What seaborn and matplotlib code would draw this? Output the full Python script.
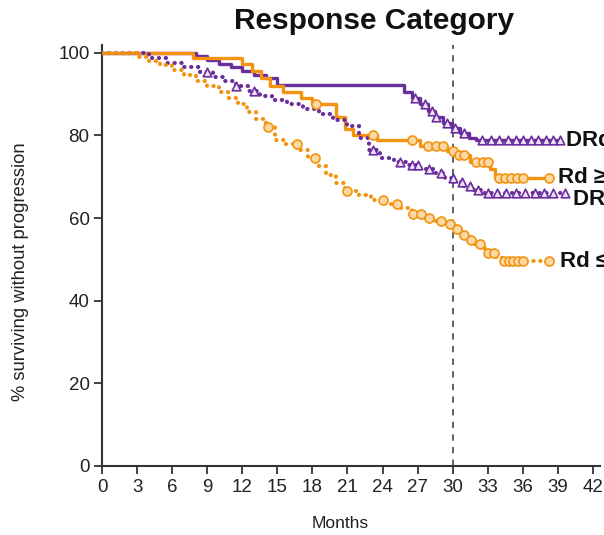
import numpy as np
import pandas as pd
import matplotlib
matplotlib.use("Agg")
import matplotlib.pyplot as plt
import seaborn as sns

sns.set_style("white")
plt.rcParams["font.family"] = ["Liberation Sans", "DejaVu Sans"]

PURPLE = "#6A2D9C"
ORANGE = "#F3930F"

# Kaplan-Meier step points (months, % progression-free) and censor times
drd_cr_t = [0, 8.0, 9.0, 10.0, 11.0, 12.0, 13.0, 14.0, 15.0, 25.8, 26.5, 27.2, 27.9,
            28.5, 29.2, 29.9, 30.6, 31.4, 32.0]
drd_cr_s = [100, 99.2, 98.3, 97.4, 96.5, 95.6, 94.7, 93.8, 92.3, 90.5, 89.0, 87.5, 86.0,
            84.5, 83.0, 81.8, 80.6, 79.5, 78.8]
drd_cr_end = 39.2
drd_cr_cens = [26.8, 27.6, 28.2, 28.6, 29.5, 30.2, 31.0, 32.5, 33.3, 34.0,
               34.7, 35.4, 36.0, 36.7, 37.3, 38.0, 38.6, 39.2]

rd_cr_t = [0, 7.8, 12.0, 12.8, 13.6, 14.4, 15.5, 17.0, 18.0, 20.0, 20.8, 21.5, 23.5,
           27.2, 29.5, 30.2, 31.5, 33.2, 33.6]
rd_cr_s = [100, 98.8, 97.3, 95.5, 93.8, 92.0, 90.5, 89.0, 87.5, 84.5, 81.5, 80.0, 79.0,
           77.5, 76.3, 75.3, 73.7, 71.8, 69.8]
rd_cr_end = 38.2
rd_cr_cens = [18.3, 23.2, 26.5, 27.9, 28.6, 29.2, 30.0, 30.5, 31.0, 32.0, 32.6, 33.0,
              34.0, 34.5, 35.0, 35.5, 36.0, 38.2]

drd_lt_t = [0, 4.0, 5.5, 7.0, 8.4, 9.5, 10.5, 11.5, 12.5, 13.5, 14.5, 15.8, 17.2, 18.6,
            19.8, 21.0, 22.0, 22.8, 23.8, 25.0, 26.2, 27.2, 28.3, 29.3, 30.2, 31.0,
            31.8, 32.6]
drd_lt_s = [100, 98.8, 97.6, 96.5, 95.3, 94.2, 93.2, 92.0, 90.8, 89.5, 88.5, 87.5, 86.5,
            85.2, 83.8, 82.2, 79.5, 76.5, 74.5, 73.5, 72.8, 71.8, 70.8, 69.8, 68.8,
            67.8, 66.8, 66.0]
drd_lt_end = 39.6
drd_lt_cens = [9.0, 11.5, 13.0, 23.2, 25.5, 26.5, 27.0, 28.0, 29.0, 30.0, 30.8, 31.5,
               32.2, 33.0, 33.8, 34.6, 35.4, 36.2, 37.0, 37.8, 38.6, 39.6]

rd_lt_t = [0, 3.0, 4.0, 5.0, 6.0, 7.0, 8.0, 9.0, 10.0, 10.8, 11.6, 12.4, 13.2, 14.0,
           14.8, 15.7, 16.8, 17.6, 18.4, 19.2, 20.0, 20.8, 22.0, 23.0, 24.2, 25.6,
           26.5, 27.4, 28.6, 29.6, 30.2, 30.7, 31.2, 31.8, 32.4, 33.0, 33.6, 34.2]
rd_lt_s = [100, 99.0, 98.0, 97.0, 95.8, 94.6, 93.3, 92.0, 90.5, 89.0, 87.5, 85.8, 84.0,
           82.0, 79.0, 78.0, 76.5, 74.5, 72.5, 70.5, 68.5, 66.5, 65.5, 64.5, 63.5,
           62.5, 61.0, 60.0, 59.2, 58.5, 57.3, 56.0, 54.8, 53.8, 52.8, 51.5, 50.5, 49.6]
rd_lt_end = 38.2
rd_lt_cens = [14.2, 16.7, 18.2, 21.0, 24.0, 25.2, 26.6, 27.3, 28.0, 29.0, 29.8, 30.4,
              31.0, 31.6, 32.3, 33.0, 33.5, 34.4, 34.8, 35.2, 35.6, 36.0, 38.2]

labels = ["DRd \u2265CR", "Rd \u2265CR", "DRd \u2264VGPR", "Rd \u2264VGPR"]
x_ticks = list(range(0, 43, 3))
y_ticks = [0, 20, 40, 60, 80, 100]

series = [
    (drd_cr_t, drd_cr_s, drd_cr_end, drd_cr_cens, PURPLE, "solid", "^"),
    (rd_cr_t, rd_cr_s, rd_cr_end, rd_cr_cens, ORANGE, "solid", "o"),
    (drd_lt_t, drd_lt_s, drd_lt_end, drd_lt_cens, PURPLE, "dotted", "^"),
    (rd_lt_t, rd_lt_s, rd_lt_end, rd_lt_cens, ORANGE, "dotted", "o"),
]
label_pos = [(39.7, 0.0), (39.0, 0.0), (40.3, -1.5), (39.2, 0.0)]

fig = plt.figure(figsize=(6.04, 5.35), dpi=100)
ax = fig.add_axes([102 / 604, 69 / 535, 498 / 604, 421 / 535])

def step_value(t, s, x):
    idx = np.searchsorted(np.asarray(t), x, side="right") - 1
    return np.asarray(s)[idx]

ax.axvline(30, ymin=0, ymax=1.0, color="#555555", lw=1.3, ls=(0, (3.5, 3.5)), zorder=1)

for (t, s, end, cens, col, kind, mk), lab, (lx, dy) in zip(series, labels, label_pos):
    df = pd.DataFrame({"month": list(t) + [end], "pct": list(s) + [s[-1]]})
    if kind == "solid":
        sns.lineplot(data=df, x="month", y="pct", ax=ax, estimator=None, sort=False,
                     drawstyle="steps-post", color=col, lw=2.4, zorder=3)
    else:
        sns.lineplot(data=df, x="month", y="pct", ax=ax, estimator=None, sort=False,
                     drawstyle="steps-post", color=col, lw=3.0,
                     linestyle=(0, (0.05, 1.6)), dash_capstyle="round", zorder=3)
    cdf = pd.DataFrame({"month": cens, "pct": step_value(t, s, np.asarray(cens))})
    face = "#FBD9A6" if mk == "o" else "#EDE3F5"
    size = 42 if mk == "o" else 38
    sns.scatterplot(data=cdf, x="month", y="pct", ax=ax, marker=mk, s=size,
                    facecolor=face, edgecolor=col, linewidth=1.2, zorder=4)
    ax.text(lx, s[-1] + dy, lab, ha="left", va="center", fontsize=16,
            fontweight="bold", color="#111111", clip_on=False)

ax.set_xlim(0, 42.6)
ax.set_ylim(0, 101.9)
ax.set_xticks(x_ticks)
ax.set_yticks(y_ticks)
ax.set_xlabel("")
ax.set_ylabel("")
ax.tick_params(axis="both", direction="out", length=6, width=1.3, color="#333333",
               labelsize=13.5, labelcolor="#222222", pad=3, left=True, bottom=True)
for side in ["top", "right"]:
    ax.spines[side].set_visible(False)
for side in ["left", "bottom"]:
    ax.spines[side].set_color("#333333")
    ax.spines[side].set_linewidth(1.5)

fig.text(374 / 604, 1 - 21 / 535, "Response Category", ha="center", va="center",
         fontsize=21.5, fontweight="bold", color="#111111")
fig.text(21 / 604, 1 - 272 / 535, "% surviving without progression", rotation=90,
         ha="center", va="center", fontsize=13.2, color="#222222")
fig.text(340 / 604, 1 - 524 / 535, "Months", ha="center", va="center",
         fontsize=12.5, color="#222222")

fig.savefig("out.png", dpi=100)
